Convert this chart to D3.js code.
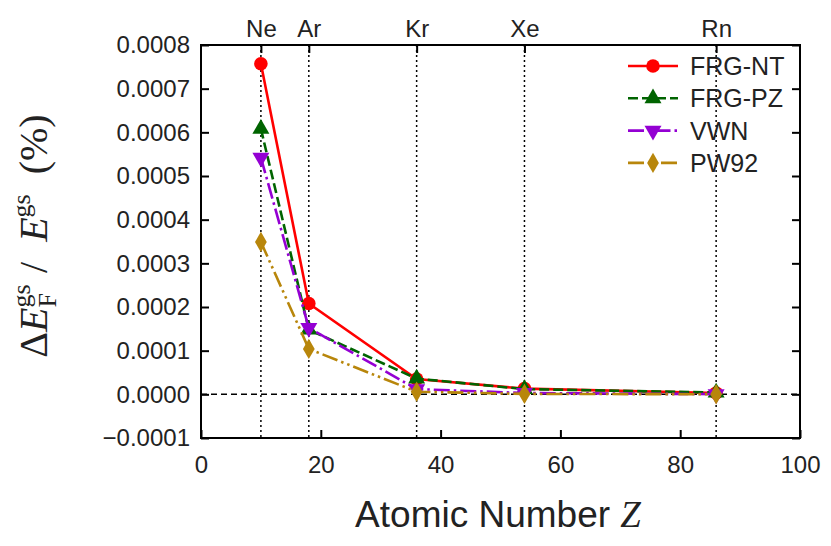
<!DOCTYPE html>
<html>
<head>
<meta charset="utf-8">
<script src="https://cdn.jsdelivr.net/npm/d3@7"></script>
<style>
  body { margin: 0; background: #fff; }
  text { fill: #222; }
</style>
</head>
<body>
<div id="chart"></div>
<script>
// datos: diferencia relativa de energía del estado fundamental por átomo
const elements = ["Ne", "Ar", "Kr", "Xe", "Rn"];
const atomicZ = [10, 18, 36, 54, 86];
const frgNT = [0.000757, 0.000208, 0.000035, 0.000013, 0.000003];
const frgPZ = [0.000608, 0.000148, 0.000036, 0.000012, 0.000004];
const vwn = [0.000542, 0.000152, 0.000012, 0.000003, 0.0000005];
const pw92 = [0.000349, 0.000104, 0.000006, 0.000001, 0.0000002];
const xTicks = [0, 20, 40, 60, 80, 100];
const yTicks = [-0.0001, 0, 0.0001, 0.0002, 0.0003, 0.0004, 0.0005, 0.0006, 0.0007, 0.0008];

const series = [
  { name: "FRG-NT", values: frgNT, color: "#ff0000", dash: null, marker: "circle" },
  { name: "FRG-PZ", values: frgPZ, color: "#006400", dash: "10,4", marker: "up" },
  { name: "VWN", values: vwn, color: "#9400d3", dash: "16,4,2.5,4", marker: "down" },
  { name: "PW92", values: pw92, color: "#b8860b", dash: "16,4,2.5,4,2.5,4", marker: "diamond" }
];

const W = 831, H = 546;
const margin = { top: 45, right: 31, bottom: 108, left: 201 };
const width = W - margin.left - margin.right;
const height = H - margin.top - margin.bottom;

const svg = d3.select("#chart").append("svg")
  .attr("width", W).attr("height", H);
const g = svg.append("g").attr("transform", `translate(${margin.left},${margin.top})`);

const x = d3.scaleLinear().domain([0, 100]).range([0, width]);
const y = d3.scaleLinear().domain([-0.0001, 0.0008]).range([height, 0]);

const sansFont = "'Liberation Sans', 'DejaVu Sans', sans-serif";
const serifFont = "'Liberation Serif', 'DejaVu Serif', serif";

// líneas de referencia
g.selectAll(".elem-line").data(atomicZ).enter().append("line")
  .attr("x1", d => x(d)).attr("x2", d => x(d))
  .attr("y1", 0).attr("y2", height)
  .attr("stroke", "#000").attr("stroke-width", 1.5)
  .attr("stroke-dasharray", "2,3");
g.append("line")
  .attr("x1", 0).attr("x2", width)
  .attr("y1", y(0)).attr("y2", y(0))
  .attr("stroke", "#000").attr("stroke-width", 1.5)
  .attr("stroke-dasharray", "6,4");

// ejes
const tickLen = 8;
const xAxis = g.append("g").attr("transform", `translate(0,${height})`)
  .call(d3.axisBottom(x).tickValues(xTicks).tickSizeInner(-tickLen).tickSizeOuter(0).tickPadding(18));
const yAxis = g.append("g")
  .call(d3.axisLeft(y).tickValues(yTicks).tickSizeInner(-tickLen).tickSizeOuter(0).tickPadding(11)
    .tickFormat(d => (d < 0 ? "\u2212" : "") + Math.abs(d).toFixed(4)));
const yAxisR = g.append("g").attr("transform", `translate(${width},0)`)
  .call(d3.axisRight(y).tickValues(yTicks).tickSizeInner(-tickLen).tickSizeOuter(0).tickFormat(""));
const topAxis = g.append("g")
  .call(d3.axisTop(x).tickValues(atomicZ).tickSizeInner(-tickLen).tickSizeOuter(0).tickPadding(8)
    .tickFormat((d, i) => elements[i]));

[xAxis, yAxis, yAxisR, topAxis].forEach(a => {
  a.select(".domain").remove();
  a.selectAll(".tick line").attr("stroke", "#000").attr("stroke-width", 2);
  a.selectAll(".tick text").attr("font-family", sansFont).attr("font-size", 24).attr("fill", "#222");
});

g.append("rect").attr("width", width).attr("height", height)
  .attr("fill", "none").attr("stroke", "#000").attr("stroke-width", 2);

// series
const symbolFor = m => ({
  circle: d3.symbol().type(d3.symbolCircle).size(145),
  up: d3.symbol().type(d3.symbolTriangle).size(125),
  down: d3.symbol().type(d3.symbolTriangle).size(125),
  diamond: d3.symbol().type(d3.symbolDiamond).size(120)
})[m];

const line = d3.line().x(d => x(d[0])).y(d => y(d[1]));

series.forEach(s => {
  const pts = atomicZ.map((z, i) => [z, s.values[i]]);
  g.append("path").datum(pts)
    .attr("d", line)
    .attr("fill", "none").attr("stroke", s.color).attr("stroke-width", 2.6)
    .attr("stroke-dasharray", s.dash);
  g.selectAll(null).data(pts).enter().append("path")
    .attr("d", symbolFor(s.marker)())
    .attr("transform", d => `translate(${x(d[0])},${y(d[1])})` + (s.marker === "down" ? " rotate(180)" : ""))
    .attr("fill", s.color);
});

// leyenda
const legend = g.append("g").attr("transform", `translate(${628 - margin.left},${66 - margin.top})`);
series.forEach((s, i) => {
  const row = legend.append("g").attr("transform", `translate(0,${i * 32.3})`);
  row.append("line").attr("x1", 0).attr("x2", 50).attr("y1", 0).attr("y2", 0)
    .attr("stroke", s.color).attr("stroke-width", 2.6).attr("stroke-dasharray", s.dash);
  row.append("path").attr("d", symbolFor(s.marker)())
    .attr("transform", "translate(25,0)" + (s.marker === "down" ? " rotate(180)" : ""))
    .attr("fill", s.color);
  row.append("text").attr("x", 62).attr("y", 9)
    .attr("font-family", sansFont).attr("font-size", 25).text(s.name);
});

// títulos de ejes
svg.append("text")
  .attr("x", 498).attr("y", 527).attr("text-anchor", "middle")
  .attr("font-family", sansFont).attr("font-size", 37)
  .text("Atomic Number ")
  .append("tspan").attr("font-family", serifFont).attr("font-style", "italic").text("Z");

const yl = svg.append("text")
  .attr("transform", "translate(47,236) rotate(-90)")
  .attr("text-anchor", "middle")
  .attr("font-family", serifFont).attr("font-size", 40);
yl.append("tspan").text("\u0394");
yl.append("tspan").attr("font-style", "italic").text("E");
yl.append("tspan").attr("font-size", 26).attr("dy", -17).text("gs");
yl.append("tspan").attr("font-size", 26).attr("dx", -23).attr("dy", 26).text("F");
yl.append("tspan").attr("dy", -9).text("\u2002/\u2002");
yl.append("tspan").attr("font-style", "italic").text("E");
yl.append("tspan").attr("font-size", 26).attr("dy", -17).text("gs");
yl.append("tspan").attr("dy", 17).text("\u2002(%)");
</script>
</body>
</html>
